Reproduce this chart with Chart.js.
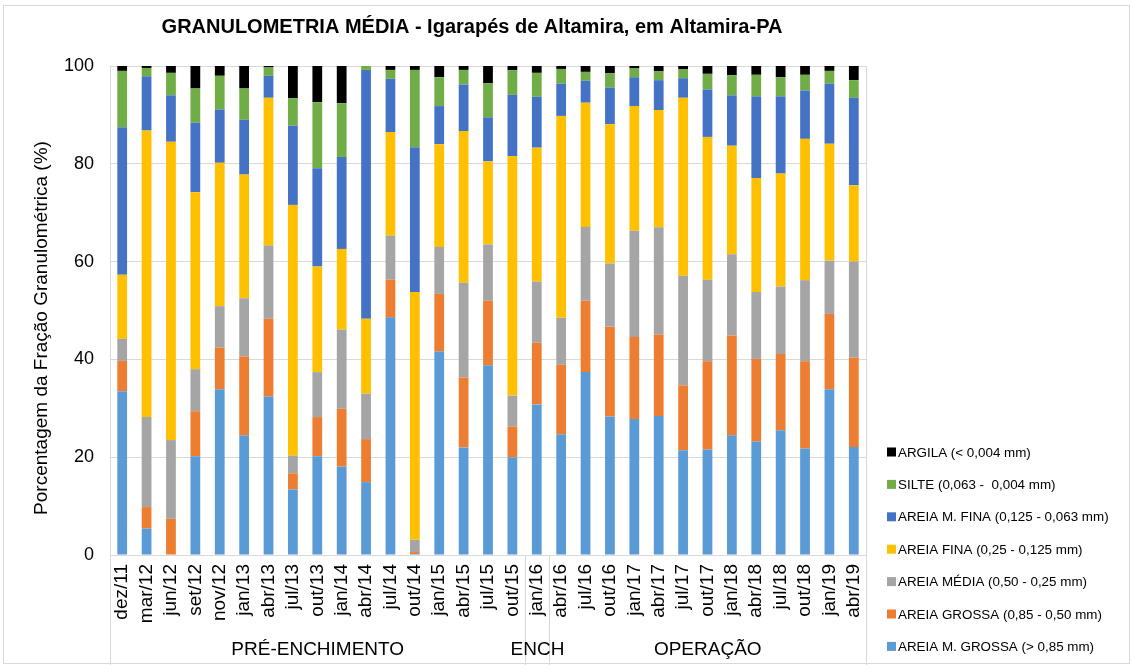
<!DOCTYPE html>
<html>
<head>
<meta charset="utf-8">
<script src="https://cdn.jsdelivr.net/npm/chart.js@4/dist/chart.umd.min.js"></script>
<style>
  html, body { margin: 0; padding: 0; background: #fff; }
  canvas { display: block; }
</style>
</head>
<body>
<canvas id="grafico" width="1132" height="665"></canvas>
<script>
const meses = ['dez/11', 'mar/12', 'jun/12', 'set/12', 'nov/12', 'jan/13', 'abr/13', 'jul/13', 'out/13',
  'jan/14', 'abr/14', 'jul/14', 'out/14', 'jan/15', 'abr/15', 'jul/15', 'out/15', 'jan/16', 'abr/16',
  'jul/16', 'out/16', 'jan/17', 'abr/17', 'jul/17', 'out/17', 'jan/18', 'abr/18', 'jul/18', 'out/18',
  'jan/19', 'abr/19'];

// fases (nº de coletas em cada uma)
const fases = ['PRÉ-ENCHIMENTO', 'ENCH', 'OPERAÇÃO'];
const fasesQtd = [17, 1, 13];

const areiaMGrossa = [33.5, 5.4, 0, 20.2, 33.9, 24.5, 32.4, 13.4, 20.2, 18.1, 14.9, 48.6, 0.2, 41.6, 22.0, 38.8,
  20.0, 30.8, 24.7, 37.4, 28.3, 27.8, 28.4, 21.4, 21.6, 24.5, 23.2, 25.5, 21.8, 33.9, 22.1];
const areiaGrossa = [6.2, 4.4, 7.4, 9.2, 8.5, 16.1, 15.9, 3.3, 8.0, 11.8, 8.8, 7.7, 0.4, 11.8, 14.3, 13.2,
  6.3, 12.6, 14.2, 14.6, 18.4, 16.8, 16.7, 13.3, 18.0, 20.4, 16.9, 15.6, 17.8, 15.4, 18.3];
const areiaMedia = [4.5, 18.4, 16.1, 8.6, 8.5, 11.9, 15.0, 3.6, 9.2, 16.2, 9.3, 9.0, 2.5, 9.6, 19.4, 11.5,
  6.3, 12.5, 9.6, 15.1, 12.9, 21.7, 21.9, 22.4, 16.7, 16.6, 13.7, 13.8, 16.6, 10.9, 19.6];
const areiaFina = [13.1, 58.6, 61.0, 36.2, 29.3, 25.3, 30.2, 51.3, 21.6, 16.5, 15.3, 21.2, 50.7, 21.0, 31.0, 17.0,
  49.0, 27.4, 41.3, 25.4, 28.5, 25.5, 24.0, 36.4, 29.2, 22.2, 23.3, 23.1, 28.9, 23.9, 15.6];
const areiaMFina = [30.2, 11.1, 9.5, 14.2, 10.9, 11.2, 4.5, 16.2, 20.1, 18.8, 50.9, 10.9, 29.6, 7.8, 9.5, 9.0,
  12.5, 10.4, 6.6, 4.5, 7.5, 5.9, 6.1, 4.0, 9.7, 10.3, 16.7, 15.8, 9.9, 12.3, 17.9];
const silte = [11.5, 1.7, 4.6, 7.0, 6.9, 6.4, 1.7, 5.6, 13.5, 11.0, 0.8, 1.8, 15.8, 5.9, 3.0, 7.0,
  5.0, 4.9, 3.0, 1.8, 2.9, 1.8, 1.8, 1.8, 3.2, 4.1, 4.4, 3.9, 3.2, 2.6, 3.6];
const argila = [1.0, 0.4, 1.4, 4.6, 2.0, 4.6, 0.3, 6.6, 7.4, 7.6, 0, 0.8, 0.8, 2.3, 0.8, 3.5,
  0.9, 1.4, 0.6, 1.2, 1.5, 0.5, 1.1, 0.7, 1.6, 1.9, 1.8, 2.3, 1.8, 1.0, 2.9];

const yTicks = [0, 20, 40, 60, 80, 100];

const fonte = '"Liberation Sans", Arial, sans-serif';
const cinza = '#d9d9d9';

const series = [
  { label: 'AREIA M. GROSSA (> 0,85 mm)', data: areiaMGrossa, backgroundColor: '#5b9bd5' },
  { label: 'AREIA GROSSA (0,85 - 0,50 mm)', data: areiaGrossa, backgroundColor: '#ed7d31' },
  { label: 'AREIA MÉDIA (0,50 - 0,25 mm)', data: areiaMedia, backgroundColor: '#a5a5a5' },
  { label: 'AREIA FINA (0,25 - 0,125 mm)', data: areiaFina, backgroundColor: '#ffc000' },
  { label: 'AREIA M. FINA (0,125 - 0,063 mm)', data: areiaMFina, backgroundColor: '#4472c4' },
  { label: 'SILTE (0,063 -  0,004 mm)', data: silte, backgroundColor: '#70ad47' },
  { label: 'ARGILA (< 0,004 mm)', data: argila, backgroundColor: '#000000' }
];

// textos, legenda e divisões das fases
const extras = {
  id: 'extras',
  afterDraw(chart) {
    const c = chart.ctx;
    const area = chart.chartArea;
    const x = chart.scales.x;
    c.save();

    // moldura
    c.strokeStyle = cinza;
    c.lineWidth = 1;
    c.strokeRect(3.5, 5.5, 1126, 658);

    // titulo
    c.fillStyle = '#000';
    c.font = 'bold 20px ' + fonte;
    c.textAlign = 'center';
    c.textBaseline = 'middle';
    c.fillText('GRANULOMETRIA MÉDIA - Igarapés de Altamira, em Altamira-PA', 472, 27);

    // titulo do eixo y
    c.save();
    c.translate(42, 328);
    c.rotate(-Math.PI / 2);
    c.font = '19px ' + fonte;
    c.fillText('Porcentagem da Fração Granulométrica (%)', 0, 0);
    c.restore();

    // bordas do grafico e divisões
    const meio = (i) => (x.getPixelForValue(i - 1) + x.getPixelForValue(i)) / 2;
    c.strokeStyle = cinza;
    c.beginPath();
    c.moveTo(Math.round(area.left) + 0.5, area.top);
    c.lineTo(Math.round(area.left) + 0.5, 665);
    c.moveTo(Math.round(area.right) + 0.5, area.top);
    c.lineTo(Math.round(area.right) + 0.5, 665);
    let idx = 0;
    const limites = [area.left];
    fasesQtd.forEach((n, k) => {
      idx += n;
      if (k < fasesQtd.length - 1) {
        const px = Math.round(meio(idx)) + 0.5;
        c.moveTo(px, area.bottom);
        c.lineTo(px, 665);
        limites.push(px);
      }
    });
    limites.push(area.right);
    c.stroke();

    c.fillStyle = '#000';
    c.font = '19px ' + fonte;
    fases.forEach((f, k) => {
      c.fillText(f, (limites[k] + limites[k + 1]) / 2, area.bottom + 95);
    });

    // legenda
    c.textAlign = 'left';
    c.font = '13.4px ' + fonte;
    const itens = chart.data.datasets.slice().reverse();
    itens.forEach((d, i) => {
      const y = 452 + i * 32.4;
      c.fillStyle = d.backgroundColor;
      c.fillRect(887, y - 4.5, 9, 9);
      c.fillStyle = '#000';
      c.fillText(d.label, 898, y + 1);
    });
    c.restore();
  }
};

new Chart(document.getElementById('grafico'), {
  type: 'bar',
  data: {
    labels: meses,
    datasets: series.map(s => Object.assign({ barPercentage: 0.4, categoryPercentage: 1.0, borderWidth: 0 }, s))
  },
  options: {
    responsive: false,
    animation: false,
    devicePixelRatio: 1,
    layout: { padding: { left: 0, top: 66, right: 266, bottom: 0 } },
    plugins: {
      legend: { display: false },
      title: { display: false },
      tooltip: { enabled: false }
    },
    scales: {
      x: {
        stacked: true,
        grid: { display: false, drawTicks: false },
        border: { display: false },
        ticks: {
          autoSkip: false, minRotation: 90, maxRotation: 90, padding: 9,
          color: '#000', font: { size: 19, family: fonte }
        },
        afterFit(s) { s.height = 110; }
      },
      y: {
        stacked: true,
        min: 0,
        max: 100,
        afterBuildTicks(s) { s.ticks = yTicks.map(v => ({ value: v })); },
        grid: { color: cinza, drawTicks: false },
        border: { display: false },
        ticks: { padding: 16, color: '#000', font: { size: 18, family: fonte } },
        afterFit(s) { s.width = 110; }
      }
    }
  },
  plugins: [extras]
});
</script>
</body>
</html>
